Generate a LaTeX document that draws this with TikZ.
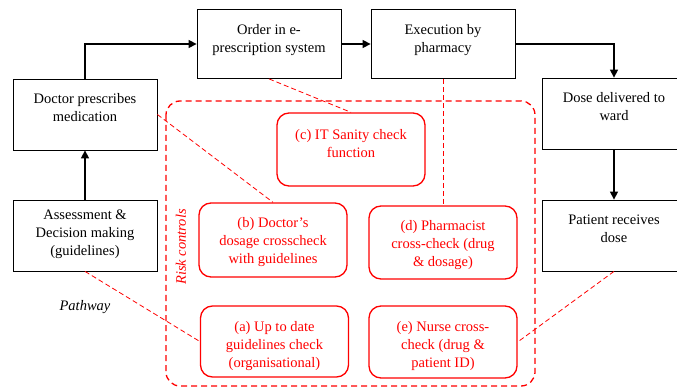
\documentclass[tikz,border=0pt]{standalone}
\usepackage{fontspec}
\setmainfont{Liberation Serif}
\usetikzlibrary{arrows.meta,positioning}

\tikzset{
  stage/.style={draw, line width=0.8pt, minimum width=144pt, align=center, inner sep=4pt,
    font=\fontsize{14.5}{18}\selectfont},
  control/.style={draw=red, text=red, line width=1.3pt, rounded corners=12pt, minimum width=148pt,
    align=center, inner sep=4pt, font=\fontsize{14.5}{18}\selectfont},
  % text placed from the top of the box
  twolines/.style={text height=39pt, text depth=24pt},
  threelines/.style={text height=57pt, text depth=8pt},
  flow/.style={-{Triangle[length=8pt,width=8pt]}, line width=1.4pt},
  link/.style={red, line width=0.8pt, dash pattern=on 5pt off 3pt},
}

\begin{document}
\begin{tikzpicture}[x=1pt, y=-1pt]
    \useasboundingbox (0,0) rectangle (677,387);

    % pathway
    \node[stage, twolines] (doc) at (85,114.5) {Doctor prescribes\\medication};
    \node[stage, text height=52pt, text depth=11pt] (assess) at (85,235.5) {Assessment \&\\Decision making\\(guidelines)};
    \node[stage, twolines, text depth=22pt] (order) at (269,44) {Order in e-\\prescription system};
    \node[stage, twolines, text depth=22pt] (exec) at (443,44) {Execution by\\pharmacy};
    \node[stage, twolines] (dose) at (614,113.5) {Dose delivered to\\ward};
    \node[stage, twolines] (patient) at (614,235.5) {Patient receives\\dose};
    \node[font=\fontsize{14.5}{18}\selectfont\itshape] (path) at (85,307) {Pathway};

    \draw[flow] (assess) -- (doc);
    \draw[flow] (doc.north) |- (order.west);
    \draw[flow] (order) -- (exec);
    \draw[flow] (exec.east) -| (dose.north);
    \draw[flow] (dose) -- (patient);

    % risk controls
    \draw[red, line width=1.3pt, dash pattern=on 6pt off 4pt, rounded corners=14pt] (166,101) rectangle (535,386);
    \node[red, rotate=90, font=\fontsize{14.5}{18}\selectfont\itshape] (risk) at (181,247) {Risk controls};

    \node[control, text height=41pt, text depth=24pt] (c) at (351,149.5) {(c) IT Sanity check\\function};
    \node[control, threelines, text depth=9pt] (b) at (273,240) {(b) Doctor’s\\dosage crosscheck\\with guidelines};
    \node[control, threelines] (d) at (443,242.5) {(d) Pharmacist\\cross-check (drug\\\& dosage)};
    \node[control, threelines, text depth=6pt] (a) at (274.5,341.5) {(a) Up to date\\guidelines check\\(organisational)};
    \node[control, threelines, text depth=7pt] (e) at (443,342) {(e) Nurse cross-\\check (drug \&\\patient ID)};

    \draw[link] (order.south) -- (c.north);
    \draw[link] (exec.south) -- (d.north);
    \draw[link] (doc.east) -- (b.north);
    \draw[link] (assess.south) -- (a.west);
    \draw[link] (patient.south) -- (e.east);
\end{tikzpicture}
\end{document}
